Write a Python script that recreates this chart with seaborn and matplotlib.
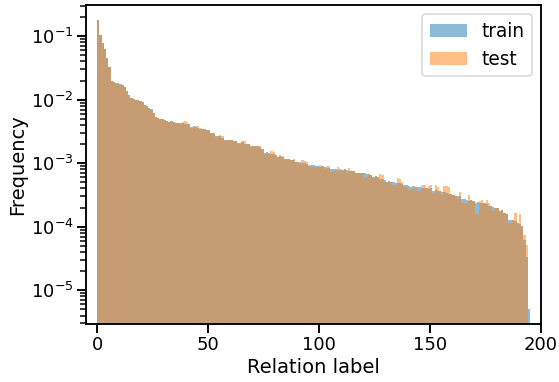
import numpy as np
import pandas as pd
import matplotlib
matplotlib.use("Agg")
import matplotlib.pyplot as plt
from matplotlib.ticker import MultipleLocator
import seaborn as sns

# Per-label relative frequency (labels 0..194)
train_freq = [
    0.182, 0.104, 0.0786, 0.0619, 0.0453, 0.0328, 0.0198, 0.0191, 0.0184, 0.0184,
    0.0178, 0.0172, 0.0160, 0.0138, 0.0120, 0.0107, 0.0104, 0.0100, 0.0100, 0.00964,
    0.00931, 0.00835, 0.00806, 0.0075, 0.00723, 0.00626, 0.00542, 0.00523, 0.00505, 0.00505,
    0.00487, 0.0047, 0.00453, 0.0046, 0.00445, 0.00437, 0.0043, 0.00422, 0.00422, 0.00415,
    0.00407, 0.00407, 0.00372, 0.0038, 0.00372, 0.00365, 0.0035, 0.0034, 0.0034, 0.00328,
    0.00328, 0.00297, 0.00297, 0.00264, 0.0027, 0.00264, 0.00246, 0.00229, 0.00235, 0.00229,
    0.00229, 0.00223, 0.00223, 0.0021, 0.0021, 0.00215, 0.00203, 0.00203, 0.00203, 0.00186,
    0.0019, 0.00186, 0.00186, 0.0018, 0.0017, 0.00147, 0.0015, 0.00147, 0.00138, 0.00138,
    0.00135, 0.00125, 0.00128, 0.00125, 0.00118, 0.00118, 0.00115, 0.00111, 0.00111, 0.00105,
    0.00105, 0.00103, 0.00099, 0.00099, 0.00097, 0.00091, 0.00093, 0.00093, 0.0009, 0.00092,
    0.00088, 0.00089, 0.00088, 0.00083, 0.00084, 0.0008, 0.0008, 0.00081, 0.00079, 0.0008,
    0.00078, 0.0008, 0.00077, 0.00076, 0.00076, 0.00075, 0.000705, 0.00071, 0.0007, 0.000705,
    0.00069, 0.000673, 0.000673, 0.00066, 0.00061, 0.00062, 0.0006, 0.000556, 0.00056, 0.00055,
    0.00051, 0.00052, 0.00051, 0.0005, 0.000482, 0.00049, 0.000482, 0.00047, 0.000453, 0.00046,
    0.000445, 0.000427, 0.000435, 0.000427, 0.00042, 0.000427, 0.000403, 0.00041, 0.0004, 0.000395,
    0.000403, 0.000369, 0.000375, 0.000365, 0.00036, 0.000348, 0.00035, 0.00034, 0.000328, 0.00033,
    0.00032, 0.000305, 0.00031, 0.0003, 0.000271, 0.000275, 0.000265, 0.000255, 0.00026, 0.00025,
    0.00024, 0.000242, 0.000235, 0.000238, 0.000235, 0.00023, 0.000213, 0.00021, 0.000205, 0.000196,
    0.0002, 0.00018, 0.000182, 0.000164, 0.00016, 0.000129, 0.00013, 0.000127, 0.000125, 0.000114,
    0.000112, 0.000101, 0.0000626, 0.0000328, 0.00000505,
]

test_freq = [
    0.182, 0.104, 0.0786, 0.0619, 0.0453, 0.0328, 0.0198, 0.0191, 0.0178, 0.0184,
    0.0172, 0.0168, 0.0160, 0.0138, 0.0120, 0.0107, 0.0104, 0.0100, 0.0100, 0.00964,
    0.00931, 0.00835, 0.00806, 0.0075, 0.0070, 0.00626, 0.00542, 0.00523, 0.00505, 0.00505,
    0.00487, 0.0047, 0.0044, 0.0044, 0.00445, 0.00437, 0.0043, 0.0041, 0.00453, 0.0046,
    0.0045, 0.0042, 0.00355, 0.0036, 0.0039, 0.0039, 0.0036, 0.0034, 0.0034, 0.00328,
    0.00328, 0.00297, 0.0029, 0.0025, 0.0027, 0.0028, 0.0027, 0.0022, 0.00235, 0.00229,
    0.00229, 0.00223, 0.00223, 0.0021, 0.0020, 0.0022, 0.0022, 0.00203, 0.00203, 0.00186,
    0.0019, 0.0019, 0.0019, 0.0019, 0.0017, 0.0014, 0.0014, 0.0014, 0.00157, 0.0015,
    0.00135, 0.00125, 0.00135, 0.0013, 0.00118, 0.00118, 0.00115, 0.00111, 0.00118, 0.00105,
    0.001, 0.00098, 0.00113, 0.00108, 0.00105, 0.00095, 0.00088, 0.00087, 0.00086, 0.00089,
    0.00095, 0.00089, 0.0008, 0.00092, 0.00092, 0.00074, 0.00075, 0.00076, 0.00088, 0.00075,
    0.00078, 0.0008, 0.00071, 0.00084, 0.00076, 0.00075, 0.000705, 0.00071, 0.0007, 0.000705,
    0.00058, 0.0006, 0.000673, 0.00066, 0.00058, 0.00062, 0.0006, 0.00068, 0.00066, 0.0005,
    0.00049, 0.00052, 0.00051, 0.00046, 0.00046, 0.00058, 0.00056, 0.0005, 0.00042, 0.00042,
    0.00039, 0.00038, 0.0004, 0.000427, 0.00036, 0.00037, 0.00046, 0.00045, 0.0004, 0.00044,
    0.00046, 0.00034, 0.00045, 0.00042, 0.00036, 0.00032, 0.00044, 0.00044, 0.00042, 0.00033,
    0.00032, 0.000305, 0.00027, 0.00035, 0.000235, 0.000235, 0.00024, 0.00032, 0.00026, 0.00025,
    0.000158, 0.00016, 0.00025, 0.00026, 0.000235, 0.00026, 0.000235, 0.00021, 0.00018, 0.000196,
    0.0002, 0.00018, 0.000182, 0.000164, 0.00016, 0.000114, 0.000114, 0.000127, 0.000167, 0.000114,
    0.000158, 0.000101, 0.000075, 0.0000523,
]

train_df = pd.DataFrame({"label": np.arange(len(train_freq)), "freq": train_freq})
test_df = pd.DataFrame({"label": np.arange(len(test_freq)), "freq": test_freq})
n_labels = len(train_freq)

sns.set_context("talk", rc={
    "xtick.labelsize": 18, "ytick.labelsize": 18,
    "axes.labelsize": 19.5, "legend.fontsize": 18.5,
})
fig, ax = plt.subplots(figsize=(559 / 72, 382 / 72), dpi=72)
fig.subplots_adjust(left=0.154, right=0.968, bottom=0.152, top=0.987)

sns.histplot(data=train_df, x="label", weights="freq", binwidth=1, binrange=(0, n_labels),
             element="step", fill=True, alpha=0.5, color="C0", linewidth=0,
             label="train", ax=ax)
sns.histplot(data=test_df, x="label", weights="freq", binwidth=1, binrange=(0, n_labels),
             element="step", fill=True, alpha=0.5, color="C1", linewidth=0,
             label="test", ax=ax)

ax.set_yscale("log")
ax.set_xlim(-5, 200)
ax.set_ylim(2.95e-6, 0.31)
ax.xaxis.set_major_locator(MultipleLocator(50))
ax.set_xlabel("Relation label")
ax.set_ylabel("Frequency")
ax.legend(loc="upper right")

fig.savefig("out.png", dpi=72)
